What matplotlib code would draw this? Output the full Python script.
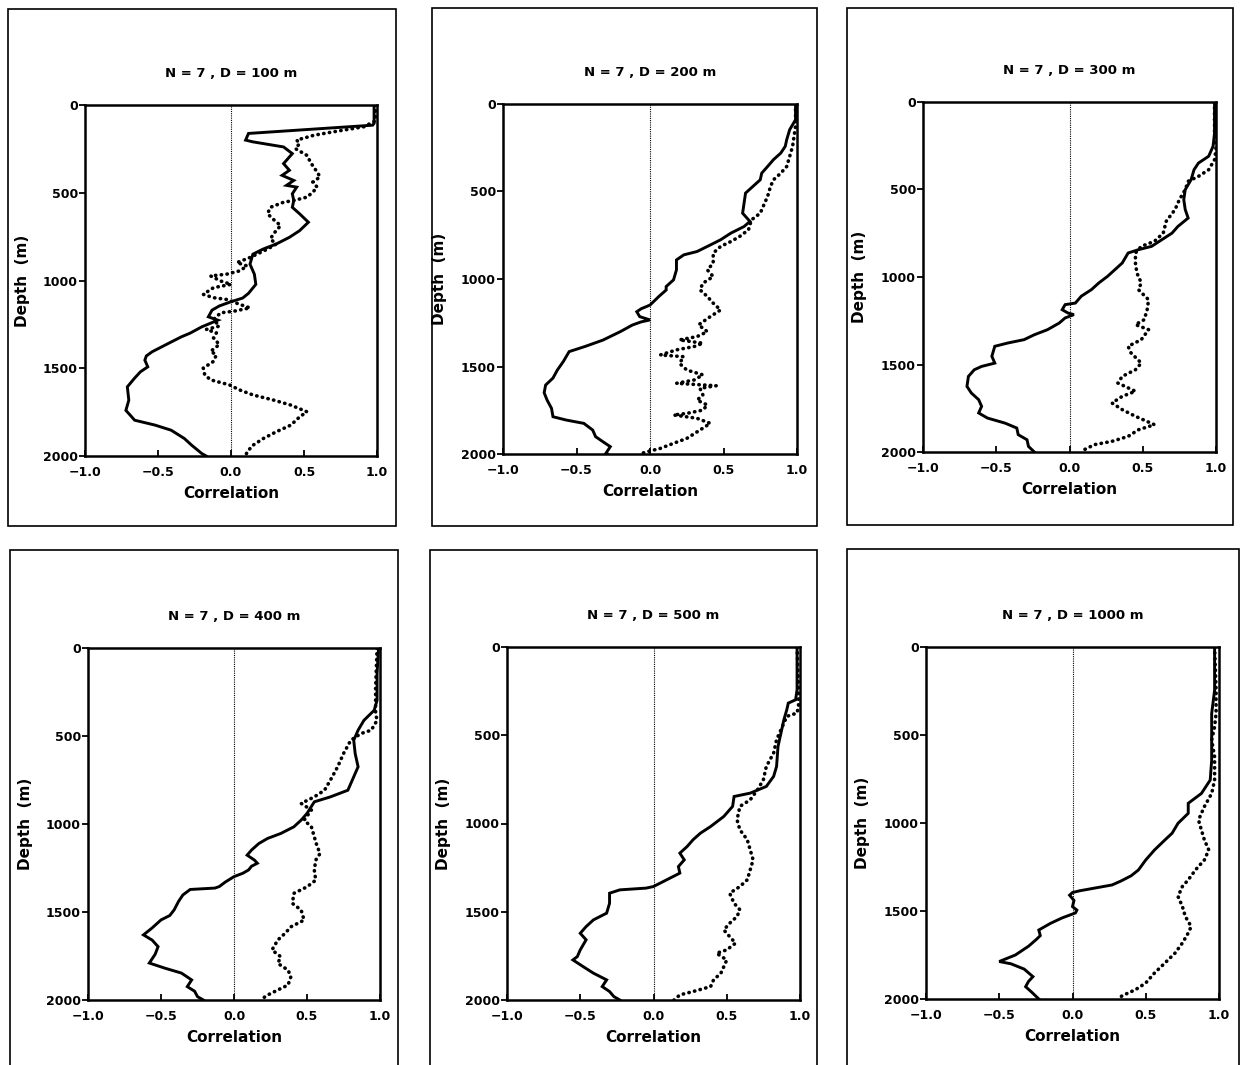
"""
six depth profiles of correlation, N = 7, for separations D = 100 ... 1000 m
solid and dotted curves, each panel inside its own box
"""

import matplotlib
matplotlib.use("Agg")
import matplotlib.pyplot as plt
from matplotlib.patches import Rectangle

W, H = 1241, 1065

titles = ["N = 7 , D = 100 m", "N = 7 , D = 200 m", "N = 7 , D = 300 m",
          "N = 7 , D = 400 m", "N = 7 , D = 500 m", "N = 7 , D = 1000 m"]
x_ticks = [-1.0, -0.5, 0.0, 0.5, 1.0]
y_ticks = [0, 500, 1000, 1500, 2000]

# D = 100 m
solid_depth_100 = [0, 105, 115, 162, 200, 210, 239, 277, 334, 372, 401, 430, 458, 468, 506, 544, 583, 620, 668, 716,
                   754, 792, 821, 850, 907, 964, 1022, 1073, 1100, 1121, 1145, 1169, 1207, 1226, 1264, 1300, 1321,
                   1359, 1406, 1430, 1454, 1492, 1520, 1556, 1606, 1682, 1740, 1777, 1796, 1824, 1853, 1900, 1938,
                   1986, 2000]
solid_corr_100 = [0.98, 0.98, 0.97, 0.12, 0.10, 0.15, 0.36, 0.42, 0.36, 0.40, 0.35, 0.43, 0.38, 0.45, 0.42, 0.43,
                  0.42, 0.47, 0.53, 0.47, 0.40, 0.31, 0.22, 0.15, 0.13, 0.16, 0.17, 0.12, 0.08, 0.0, -0.08, -0.13,
                  -0.155, -0.09, -0.20, -0.28, -0.34, -0.43, -0.54, -0.58, -0.59, -0.57, -0.62, -0.66, -0.71, -0.70,
                  -0.72, -0.68, -0.66, -0.52, -0.41, -0.32, -0.27, -0.20, -0.17]
dot_depth_100 = [0, 90, 124, 153, 172, 200, 220, 248, 287, 334, 382, 410, 439, 468, 497, 525, 544, 554, 583, 620, 659,
                 687, 735, 764, 792, 821, 869, 898, 917, 945, 964, 974, 1003, 1022, 1041, 1079, 1098, 1108, 1136,
                 1156, 1175, 1184, 1222, 1260, 1279, 1298, 1327, 1365, 1404, 1423, 1461, 1499, 1537, 1566, 1595,
                 1624, 1652, 1681, 1710, 1748, 1777, 1824, 1862, 1901, 1939, 1977, 2000]
dot_corr_100 = [0.99, 0.99, 0.91, 0.70, 0.57, 0.45, 0.47, 0.44, 0.52, 0.55, 0.59, 0.61, 0.56, 0.59, 0.56, 0.52, 0.43,
                0.36, 0.27, 0.25, 0.30, 0.34, 0.29, 0.27, 0.31, 0.25, 0.13, 0.04, 0.11, 0.06, -0.03, -0.14, -0.07,
                0.0, -0.12, -0.19, -0.12, -0.03, 0.06, 0.13, 0.02, -0.07, -0.12, -0.08, -0.17, -0.10, -0.12, -0.08,
                -0.14, -0.10, -0.12, -0.19, -0.18, -0.14, -0.01, 0.06, 0.15, 0.29, 0.41, 0.52, 0.47, 0.41, 0.31,
                0.22, 0.15, 0.11, 0.10]

# D = 200 m
solid_depth_200 = [0, 90, 147, 204, 242, 280, 318, 357, 395, 433, 471, 509, 566, 624, 671, 700, 738, 776, 814, 843,
                   862, 891, 948, 1005, 1043, 1063, 1100, 1149, 1170, 1187, 1215, 1234, 1245, 1263, 1300, 1349, 1385,
                   1415, 1472, 1520, 1566, 1606, 1650, 1692, 1739, 1787, 1806, 1825, 1863, 1901, 1930, 1958, 1996,
                   2000]
solid_corr_200 = [0.99, 0.99, 0.95, 0.93, 0.92, 0.89, 0.84, 0.80, 0.76, 0.75, 0.70, 0.65, 0.64, 0.63, 0.68, 0.64,
                  0.55, 0.48, 0.39, 0.32, 0.23, 0.18, 0.18, 0.16, 0.11, 0.11, 0.06, 0.0, -0.06, -0.09, -0.07, 0.0,
                  -0.06, -0.12, -0.20, -0.32, -0.44, -0.55, -0.59, -0.63, -0.66, -0.71, -0.72, -0.70, -0.67, -0.66,
                  -0.57, -0.45, -0.39, -0.37, -0.32, -0.27, -0.30, -0.29]
dot_depth_200 = [0, 128, 185, 242, 300, 357, 395, 433, 471, 528, 585, 624, 662, 719, 757, 786, 814, 852, 910, 948,
                 986, 1024, 1062, 1100, 1138, 1177, 1215, 1262, 1301, 1329, 1348, 1367, 1386, 1405, 1434, 1444, 1482,
                 1520, 1548, 1577, 1596, 1610, 1625, 1663, 1692, 1720, 1749, 1768, 1777, 1796, 1825, 1863, 1911,
                 1939, 1968, 1987, 2000]
dot_corr_200 = [0.99, 0.99, 0.98, 0.97, 0.95, 0.93, 0.89, 0.84, 0.82, 0.80, 0.77, 0.75, 0.69, 0.67, 0.61, 0.55, 0.48,
                0.43, 0.43, 0.39, 0.43, 0.36, 0.34, 0.39, 0.43, 0.48, 0.41, 0.33, 0.39, 0.32, 0.20, 0.36, 0.30, 0.18,
                0.07, 0.23, 0.20, 0.25, 0.36, 0.30, 0.18, 0.45, 0.34, 0.36, 0.32, 0.39, 0.36, 0.25, 0.16, 0.32, 0.41,
                0.34, 0.25, 0.16, 0.07, -0.02, -0.07]

# D = 300 m
solid_depth_300 = [0, 177, 253, 310, 349, 387, 444, 501, 558, 615, 663, 711, 749, 787, 825, 844, 863, 920, 958, 996,
                   1034, 1072, 1110, 1149, 1158, 1187, 1206, 1215, 1234, 1263, 1301, 1330, 1358, 1377, 1396, 1453,
                   1492, 1511, 1530, 1568, 1625, 1663, 1701, 1739, 1777, 1806, 1835, 1863, 1901, 1930, 1968, 2000]
solid_corr_300 = [0.99, 0.99, 0.98, 0.95, 0.88, 0.85, 0.83, 0.79, 0.78, 0.79, 0.81, 0.74, 0.70, 0.63, 0.56, 0.47,
                  0.40, 0.36, 0.31, 0.26, 0.20, 0.15, 0.08, 0.04, -0.03, -0.05, -0.01, 0.03, -0.03, -0.07, -0.15,
                  -0.24, -0.31, -0.42, -0.51, -0.53, -0.51, -0.60, -0.65, -0.69, -0.70, -0.67, -0.62, -0.60, -0.62,
                  -0.56, -0.44, -0.36, -0.35, -0.29, -0.28, -0.24]
dot_depth_300 = [0, 177, 272, 330, 387, 425, 453, 501, 558, 615, 682, 749, 796, 825, 863, 920, 977, 1034, 1072, 1130,
                 1187, 1244, 1272, 1301, 1358, 1396, 1434, 1492, 1530, 1568, 1606, 1653, 1682, 1720, 1758, 1796, 1844,
                 1873, 1911, 1939, 1958, 1987, 2000]
dot_corr_300 = [0.99, 0.99, 1.0, 0.99, 0.95, 0.88, 0.81, 0.79, 0.75, 0.72, 0.66, 0.64, 0.58, 0.49, 0.45, 0.45, 0.46,
                0.49, 0.47, 0.54, 0.53, 0.51, 0.45, 0.54, 0.49, 0.40, 0.42, 0.49, 0.45, 0.36, 0.33, 0.45, 0.36, 0.29,
                0.36, 0.45, 0.58, 0.47, 0.40, 0.29, 0.17, 0.10, 0.09]

# D = 400 m
solid_depth_400 = [0, 146, 297, 354, 411, 467, 524, 600, 675, 751, 808, 846, 874, 940, 978, 1016, 1054, 1082, 1111,
                   1148, 1177, 1205, 1223, 1240, 1261, 1280, 1299, 1330, 1355, 1364, 1372, 1403, 1440, 1488, 1520,
                   1545, 1590, 1630, 1660, 1697, 1740, 1790, 1820, 1847, 1886, 1924, 1950, 1981, 2000]
solid_corr_400 = [0.99, 0.98, 0.98, 0.96, 0.89, 0.85, 0.82, 0.83, 0.85, 0.81, 0.78, 0.66, 0.55, 0.50, 0.46, 0.41,
                  0.32, 0.23, 0.17, 0.12, 0.09, 0.14, 0.16, 0.12, 0.10, 0.06, 0.0, -0.06, -0.10, -0.13, -0.30, -0.35,
                  -0.38, -0.41, -0.44, -0.50, -0.56, -0.62, -0.56, -0.52, -0.54, -0.58, -0.47, -0.36, -0.29, -0.32,
                  -0.27, -0.25, -0.21]
dot_depth_400 = [0, 221, 373, 411, 467, 486, 524, 600, 675, 751, 808, 846, 883, 921, 978, 1016, 1073, 1129, 1167,
                 1205, 1262, 1319, 1357, 1394, 1451, 1489, 1546, 1584, 1621, 1659, 1716, 1754, 1792, 1830, 1867, 1915,
                 1943, 1972, 2000]
dot_corr_400 = [0.98, 0.97, 0.97, 0.98, 0.94, 0.87, 0.80, 0.75, 0.71, 0.66, 0.62, 0.55, 0.46, 0.53, 0.48, 0.53, 0.55,
                0.57, 0.59, 0.56, 0.55, 0.56, 0.50, 0.41, 0.40, 0.46, 0.48, 0.39, 0.35, 0.30, 0.26, 0.32, 0.30, 0.37,
                0.39, 0.37, 0.30, 0.23, 0.18]

# D = 500 m
solid_depth_500 = [0, 242, 299, 318, 355, 412, 488, 563, 677, 733, 790, 828, 847, 903, 960, 1017, 1055, 1092, 1130,
                   1168, 1206, 1244, 1281, 1319, 1357, 1366, 1376, 1395, 1452, 1508, 1546, 1584, 1622, 1659, 1716,
                   1754, 1773, 1811, 1848, 1886, 1924, 1952, 1981, 2000]
solid_corr_500 = [0.98, 0.98, 0.97, 0.92, 0.91, 0.89, 0.87, 0.85, 0.84, 0.82, 0.77, 0.66, 0.55, 0.54, 0.48, 0.39,
                  0.32, 0.27, 0.23, 0.18, 0.21, 0.17, 0.18, 0.09, 0.0, -0.05, -0.23, -0.30, -0.30, -0.32, -0.41,
                  -0.46, -0.50, -0.46, -0.50, -0.52, -0.55, -0.48, -0.41, -0.32, -0.35, -0.30, -0.27, -0.23]
dot_depth_500 = [0, 242, 336, 374, 393, 469, 525, 601, 677, 752, 809, 866, 903, 979, 1036, 1092, 1149, 1206, 1263,
                 1319, 1357, 1395, 1452, 1489, 1527, 1565, 1603, 1641, 1678, 1716, 1735, 1773, 1811, 1848, 1886, 1924,
                 1952, 1971, 2000]
dot_corr_500 = [0.98, 0.99, 0.99, 0.98, 0.91, 0.87, 0.84, 0.82, 0.77, 0.75, 0.71, 0.66, 0.59, 0.57, 0.59, 0.64, 0.66,
                0.68, 0.66, 0.64, 0.59, 0.52, 0.55, 0.59, 0.57, 0.52, 0.48, 0.52, 0.56, 0.50, 0.43, 0.50, 0.48, 0.46,
                0.41, 0.39, 0.27, 0.18, 0.14]

# D = 1000 m
solid_depth_1000 = [0, 246, 378, 529, 643, 756, 832, 888, 945, 1002, 1058, 1097, 1153, 1210, 1267, 1300, 1330, 1352,
                    1370, 1385, 1395, 1410, 1440, 1475, 1495, 1511, 1539, 1570, 1608, 1640, 1664, 1700, 1750, 1787,
                    1800, 1830, 1873, 1900, 1930, 1960, 2000]
solid_corr_1000 = [0.97, 0.97, 0.95, 0.95, 0.95, 0.94, 0.88, 0.79, 0.79, 0.72, 0.68, 0.63, 0.56, 0.50, 0.45, 0.40,
                   0.33, 0.27, 0.15, 0.05, 0.0, -0.02, 0.01, 0.0, 0.03, 0.02, -0.07, -0.15, -0.23, -0.22, -0.25,
                   -0.30, -0.39, -0.50, -0.42, -0.33, -0.27, -0.30, -0.32, -0.28, -0.23]
dot_depth_1000 = [0, 246, 378, 454, 529, 624, 756, 832, 907, 983, 1040, 1096, 1153, 1210, 1266, 1323, 1361, 1417,
                  1474, 1531, 1588, 1625, 1682, 1739, 1796, 1852, 1909, 1947, 1981, 2000]
dot_corr_1000 = [0.97, 0.98, 0.98, 0.97, 0.95, 0.97, 0.97, 0.95, 0.90, 0.86, 0.88, 0.90, 0.93, 0.90, 0.84, 0.79, 0.75,
                 0.72, 0.75, 0.77, 0.81, 0.79, 0.75, 0.70, 0.63, 0.56, 0.50, 0.43, 0.34, 0.31]

panels = [
    (solid_depth_100, solid_corr_100, dot_depth_100, dot_corr_100),
    (solid_depth_200, solid_corr_200, dot_depth_200, dot_corr_200),
    (solid_depth_300, solid_corr_300, dot_depth_300, dot_corr_300),
    (solid_depth_400, solid_corr_400, dot_depth_400, dot_corr_400),
    (solid_depth_500, solid_corr_500, dot_depth_500, dot_corr_500),
    (solid_depth_1000, solid_corr_1000, dot_depth_1000, dot_corr_1000),
]

# axes rectangles and surrounding boxes in pixels: (left, top, right, bottom)
axes_px = [(85, 105, 377, 456), (503, 104, 797, 454), (923, 102, 1216, 452),
           (88, 648, 380, 1000), (507, 647, 800, 1000), (926, 647, 1219, 999)]
boxes_px = [(8, 9, 396, 526), (432, 8, 817, 526), (847, 8, 1233, 525),
            (10, 550, 398, 1090), (430, 550, 817, 1090), (847, 549, 1239, 1090)]

FONT = "DejaVu Sans"


def to_fig(left, top, right, bottom):
    """pixel box -> figure fraction [x, y, w, h]"""
    return [left / W, 1 - bottom / H, (right - left) / W, (bottom - top) / H]


def draw_panel(ax, title, sd, sc, dd, dc):
    ax.plot(sc, sd, color="black", lw=2.1, solid_joinstyle="miter", zorder=3)
    ax.plot(dc, dd, color="black", lw=2.6, linestyle=(0, (0.1, 1.5)),
            dash_capstyle="round", zorder=3)
    ax.axvline(0.0, color="black", lw=0.8, linestyle=(0, (1, 1)), zorder=2)
    ax.set_xlim(-1.0, 1.0)
    ax.set_ylim(2000, 0)
    ax.set_xticks(x_ticks)
    ax.set_yticks(y_ticks)
    ax.set_xticklabels([f"{t:.1f}".replace("-", "\u2212") for t in x_ticks])
    ax.tick_params(axis="x", direction="in", length=4, width=1.3, pad=7,
                   labelsize=9)
    ax.tick_params(axis="y", direction="out", length=4, width=1.3, pad=1,
                   labelsize=9)
    for lab in ax.get_xticklabels() + ax.get_yticklabels():
        lab.set_fontweight("bold")
        lab.set_family(FONT)
    for sp in ax.spines.values():
        sp.set_linewidth(1.8)
    ax.set_title(title, fontsize=9.5, fontweight="bold", family=FONT, pad=20)
    ax.set_xlabel("Correlation", fontsize=11, fontweight="bold", family=FONT,
                  labelpad=5)
    ax.set_ylabel("Depth  (m)", fontsize=11, fontweight="bold", family=FONT)
    ax.yaxis.set_label_coords(-0.19, 0.5)


def main() -> None:
    fig = plt.figure(figsize=(W / 100, H / 100), dpi=100)
    for i in range(6):
        ax = fig.add_axes(to_fig(*axes_px[i]))
        draw_panel(ax, titles[i], *panels[i])
        bx = to_fig(*boxes_px[i])
        fig.add_artist(Rectangle((bx[0], bx[1]), bx[2], bx[3],
                                 transform=fig.transFigure, fill=False,
                                 edgecolor="black", lw=1.2))
    fig.savefig("out.png", dpi=100)
    plt.close(fig)


if __name__ == "__main__":
    main()
